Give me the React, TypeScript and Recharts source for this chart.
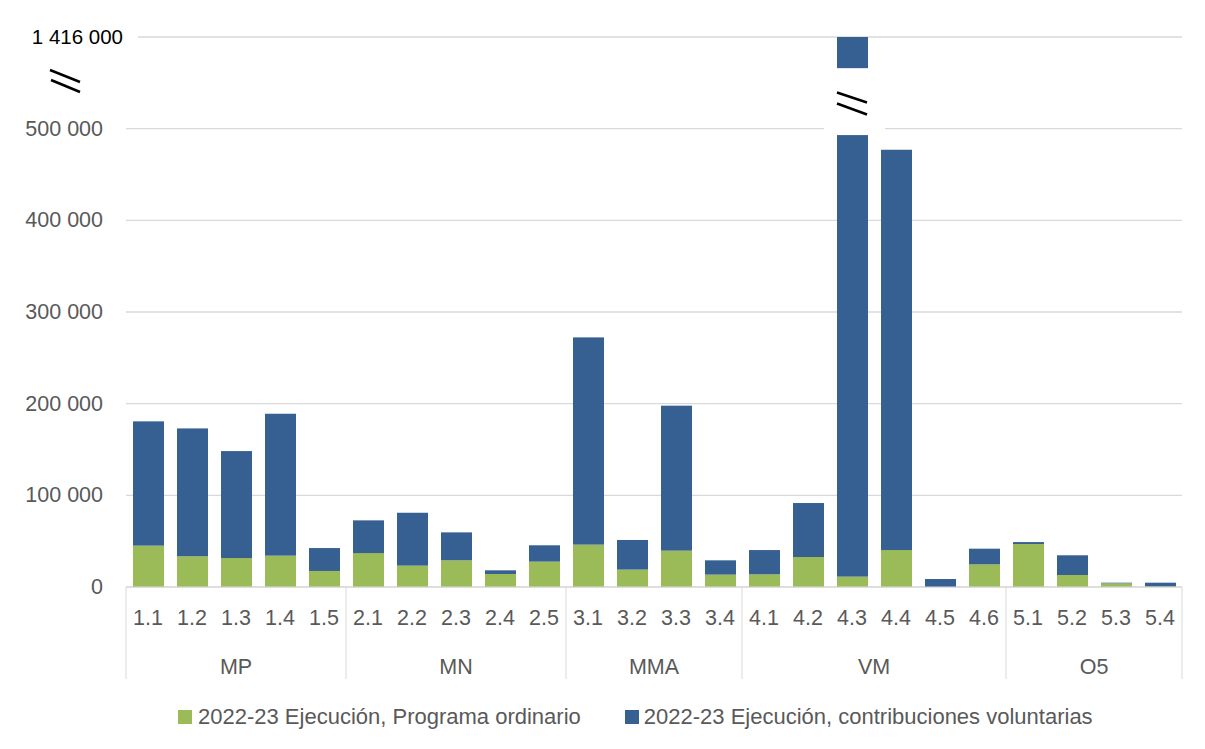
import React from "react";
import { Bar, BarChart, CartesianGrid, XAxis, YAxis } from "recharts";

const categories = ["1.1", "1.2", "1.3", "1.4", "1.5", "2.1", "2.2", "2.3", "2.4", "2.5", "3.1", "3.2", "3.3", "3.4", "4.1", "4.2", "4.3", "4.4", "4.5", "4.6", "5.1", "5.2", "5.3", "5.4"];
const groups = ["MP", "MP", "MP", "MP", "MP", "MN", "MN", "MN", "MN", "MN", "MMA", "MMA", "MMA", "MMA", "VM", "VM", "VM", "VM", "VM", "VM", "O5", "O5", "O5", "O5"];
const ordinario = [45100, 33500, 31600, 34200, 17500, 37000, 23300, 29100, 14200, 27700, 46200, 19000, 39700, 13500, 13800, 32700, 11300, 40300, 0, 24700, 46900, 13100, 4000, 500];
const voluntarias = [135600, 139500, 116700, 154800, 25000, 35700, 57700, 30500, 4000, 17800, 226100, 32300, 158100, 15600, 26500, 58900, 1404700, 436700, 8700, 17100, 2100, 21500, 700, 4200];
const yTicks = [0, 100000, 200000, 300000, 400000, 500000, 600000];

const seriesNames = ["2022-23 Ejecución, Programa ordinario", "2022-23 Ejecución, contribuciones voluntarias"];
const GREEN = "#9bbb59";
const BLUE = "#366092";
const GRID = "#d9d9d9";
const TEXT = "#595959";
const FONT = "'Liberation Sans', Arial, sans-serif";

// axis break: anything above 500 000 is drawn at the top slot (600 000)
const BREAK_START = 500000;
const BREAK_TOP = 600000;
const GAP_LOW = 493000;
const GAP_HIGH = 566000;

const W = 1197;
const H = 741;
const Y_AXIS_W = 118;
const MARGIN = { top: 29, right: 23, left: 0, bottom: 70 };
const ROW1_H = 50;
const ROW2_H = 42;
const BAND = (W - MARGIN.right - MARGIN.left - Y_AXIS_W) / categories.length;

const fmt = (v: number) => String(v).replace(/\B(?=(\d{3})+(?!\d))/g, "\u00a0");

const brokenTotal = Math.max(...categories.map((_, i) => ordinario[i] + voluntarias[i]));

const data = categories.map((name, i) => {
  const total = ordinario[i] + voluntarias[i];
  const shown = total > BREAK_START ? BREAK_TOP : total;
  return { name, group: groups[i], ordinario: ordinario[i], voluntarias: shown - ordinario[i], broken: total > BREAK_START };
});

function YTick(props: any) {
  const { x, y, payload } = props;
  if (payload.value === BREAK_TOP) {
    return (
      <g>
        <rect x={x - 85} y={y - 20} width={120} height={40} fill="#fff" />
        <text x={x + 20} y={y + 7} textAnchor="end" fill="#000" fontSize={20.5} fontFamily={FONT}>{fmt(brokenTotal)}</text>
        <line x1={x - 53} y1={y + 33} x2={x - 23} y2={y + 45} stroke="#000" strokeWidth={2.5} />
        <line x1={x - 52} y1={y + 43} x2={x - 23} y2={y + 55} stroke="#000" strokeWidth={2.5} />
      </g>
    );
  }
  return (
    <text x={x} y={y + 7} textAnchor="end" fill={TEXT} fontSize={21.5} fontFamily={FONT}>{fmt(payload.value)}</text>
  );
}

function GroupTick(props: any) {
  const { x, y, payload } = props;
  const i = props.index ?? payload.index;
  const g = groups[i];
  const start = groups.indexOf(g);
  const count = groups.filter((v) => v === g).length;
  const center = x + (start + count / 2 - (i + 0.5)) * BAND;
  return (
    <g>
      {i === start && <line x1={x - BAND / 2} y1={y - ROW1_H} x2={x - BAND / 2} y2={y + ROW2_H} stroke={GRID} />}
      {i === categories.length - 1 && <line x1={x + BAND / 2} y1={y - ROW1_H} x2={x + BAND / 2} y2={y + ROW2_H} stroke={GRID} />}
      {i === start && (
        <text x={center} y={y + 37} textAnchor="middle" fill={TEXT} fontSize={21.5} fontFamily={FONT}>{g}</text>
      )}
    </g>
  );
}

function VolShape(props: any) {
  const { x, y, width, height, payload, fill } = props;
  if (!payload.broken) return <rect x={x} y={y} width={width} height={height} fill={fill} />;
  const base = payload.ordinario;
  const py = (v: number) => y + (height * (BREAK_TOP - v)) / (BREAK_TOP - base);
  const yHigh = py(GAP_HIGH);
  const yLow = py(GAP_LOW);
  return (
    <g>
      <rect x={x - 13} y={yHigh} width={width + 30} height={yLow - yHigh} fill="#fff" />
      <rect x={x} y={y} width={width} height={yHigh - y} fill={fill} />
      <rect x={x} y={yLow} width={width} height={y + height - yLow} fill={fill} />
      <line x1={x} y1={py(539500)} x2={x + 30} y2={py(528600)} stroke="#000" strokeWidth={2.5} />
      <line x1={x} y1={py(527500)} x2={x + 30} y2={py(515500)} stroke="#000" strokeWidth={2.5} />
    </g>
  );
}

export default function App() {
  return (
    <div style={{ position: "relative", width: W, height: H, marginTop: -1, marginLeft: -1, borderTop: `1px solid ${GRID}`, borderLeft: `1px solid ${GRID}`, fontFamily: FONT }}>
      <div style={{ position: "absolute", left: -1, top: 0, width: 4, height: 50, background: "#fff" }} />
      <BarChart width={W} height={H} data={data} margin={MARGIN} barSize={31}>
        <CartesianGrid vertical={false} stroke={GRID} strokeWidth={1.3} />
        <XAxis xAxisId="cat" dataKey="name" interval={0} height={ROW1_H} tickSize={0} tickMargin={23} tickLine={false} axisLine={{ stroke: GRID }} tick={{ fill: TEXT, fontSize: 21.5, fontFamily: FONT }} />
        <XAxis xAxisId="grp" dataKey="name" interval={0} height={ROW2_H} tickSize={0} tickMargin={0} tickLine={false} axisLine={false} tick={<GroupTick />} />
        <YAxis width={Y_AXIS_W} domain={[0, BREAK_TOP]} ticks={yTicks} interval={0} tickSize={0} tickMargin={23} tickLine={false} axisLine={false} tick={<YTick />} />
        <Bar xAxisId="cat" dataKey="ordinario" stackId="a" fill={GREEN} isAnimationActive={false} />
        <Bar xAxisId="cat" dataKey="voluntarias" stackId="a" fill={BLUE} shape={<VolShape />} isAnimationActive={false} />
      </BarChart>
      <div style={{ position: "absolute", left: 170, top: 696, display: "flex", alignItems: "center", fontSize: 22, color: TEXT, whiteSpace: "nowrap" }}>
        <span style={{ width: 14, height: 14, background: GREEN, marginRight: 6 }} />
        <span>{seriesNames[0]}</span>
        <span style={{ width: 14, height: 14, background: BLUE, marginLeft: 44, marginRight: 5 }} />
        <span>{seriesNames[1]}</span>
      </div>
    </div>
  );
}
